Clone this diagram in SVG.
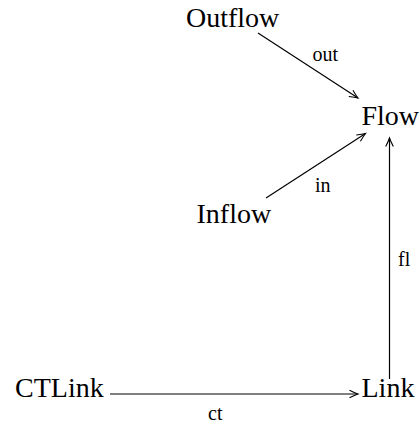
<svg xmlns="http://www.w3.org/2000/svg" width="419" height="423" viewBox="0 0 419 423">
<style>
.node{font-family:"Liberation Serif","Times New Roman",serif;font-size:28px;fill:#000}
.lbl{font-family:"Liberation Serif","Times New Roman",serif;font-size:20px;fill:#000}
.edge{stroke:#000;stroke-width:1.2;fill:none}
</style>
<defs>
<marker id="ah" markerUnits="userSpaceOnUse" viewBox="-10 -6 12 12" refX="0" refY="0" markerWidth="12" markerHeight="12" orient="auto">
<path d="M-8.5,-3.8 Q-3,-1 0,0 Q-3,1 -8.5,3.8" fill="none" stroke="#000" stroke-width="1.1"/>
</marker>
</defs>
<rect width="419" height="423" fill="#fff"/>
<g id="connectors">
<g id="e-out"><line class="edge" x1="258" y1="33" x2="358" y2="98" marker-end="url(#ah)"/><text class="lbl" x="312.5" y="60.5">out</text></g>
<g id="e-in"><line class="edge" x1="266" y1="198" x2="365.5" y2="133.5" marker-end="url(#ah)"/><text class="lbl" x="315" y="192">in</text></g>
<g id="e-fl"><line class="edge" x1="389.5" y1="379" x2="389.5" y2="138" marker-end="url(#ah)"/><text class="lbl" x="398" y="266">fl</text></g>
<g id="e-ct"><line class="edge" x1="110" y1="394" x2="358" y2="394" marker-end="url(#ah)"/><text class="lbl" x="208" y="420">ct</text></g>
</g>
<g id="Outflow"><text class="node" x="186" y="27">Outflow</text></g>
<g id="Flow"><text class="node" x="361.5" y="125">Flow</text></g>
<g id="Inflow"><text class="node" x="196.5" y="223">Inflow</text></g>
<g id="CTLink"><text class="node" x="15" y="397">CTLink</text></g>
<g id="Link"><text class="node" x="361.5" y="397">Link</text></g>
</svg>
